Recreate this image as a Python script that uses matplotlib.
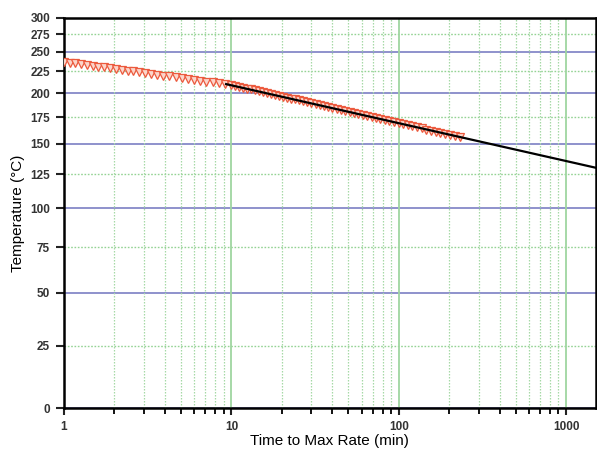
import numpy as np
import matplotlib
matplotlib.use('Agg')
import matplotlib.pyplot as plt
from matplotlib.ticker import LogLocator, NullFormatter, FixedLocator

plt.rcParams['font.family'] = ['Liberation Sans', 'DejaVu Sans']

# 实测数据 (温度 °C, 到达最大速率时间 min)
meas_temp = [237, 236, 235, 234, 233, 232, 231, 230, 229, 228, 227, 226, 225,
             224, 223, 222, 221, 220, 219, 218, 217, 216, 215, 214, 213, 212,
             211, 210, 209, 208, 207, 206, 205, 204, 203, 202, 201, 200, 199,
             198, 197, 196, 195, 194, 193, 192, 191, 190, 189, 188, 187, 186,
             185, 184, 183, 182, 181, 180, 179, 178, 177, 176, 175, 174, 173,
             172, 171, 170, 169, 168, 167, 166, 165, 164, 163, 162, 161, 160,
             159, 158, 157, 156]
meas_time = [1.00, 1.081, 1.169, 1.264, 1.368, 1.481, 1.603, 1.736, 1.881, 2.038,
             2.210, 2.397, 2.600, 2.821, 3.062, 3.325, 3.612, 3.925, 4.266, 4.638,
             5.045, 5.490, 5.974, 6.506, 7.087, 7.721, 8.415, 9.175, 10.01, 10.54,
             11.12, 11.72, 12.37, 13.05, 13.77, 14.54, 15.36, 16.22, 17.13, 18.10,
             19.13, 20.22, 21.39, 22.62, 23.93, 25.32, 26.79, 28.37, 30.04, 31.82,
             33.71, 35.73, 37.87, 40.15, 42.58, 45.17, 47.93, 50.86, 54.01, 57.35,
             60.91, 64.71, 68.78, 73.11, 77.74, 82.68, 87.98, 93.63, 99.68, 106.1,
             113.1, 120.5, 128.4, 136.9, 145.9, 155.7, 166.1, 177.3, 189.3, 202.2,
             216.0, 230.8]

# 拟合直线
fit_time = [9.3, 100, 1500]
fit_temp = [210, 169, 130]

y_ticks = [0, 25, 50, 75, 100, 125, 150, 175, 200, 225, 250, 275, 300]
x_ticks = [1, 10, 100, 1000]


def fwd(t):
    return -1.0 / (np.asarray(t, dtype=float) + 273.15)


def inv(v):
    return -1.0 / np.asarray(v, dtype=float) - 273.15


fig = plt.figure(figsize=(5.97, 4.49), dpi=100)
ax = fig.add_axes([0.1072, 0.0913, 0.8905, 0.8687])
ax.set_xscale('log')
ax.set_yscale('function', functions=(fwd, inv))
ax.set_xlim(1, 1500)
ax.set_ylim(0, 300)

# 网格线
for v in y_ticks:
    if v % 50 == 0:
        ax.axhline(v, color='#7b7fc4', lw=1.2, zorder=1)
    else:
        ax.axhline(v, color='#94d394', lw=1.0, ls=(0, (1.2, 1.2)), zorder=1)
for d in x_ticks:
    ax.axvline(d, color='#9fd6a0', lw=1.3, zorder=1)
    for m in range(2, 10):
        if d * m < 1500:
            ax.axvline(d * m, color='#a6d9a6', lw=0.9, ls=(0, (1.2, 1.2)), zorder=1)

ax.plot(meas_time, meas_temp, 'v', ms=6.3, mfc='#fbd6cb', mec='#ec5a3e',
        mew=0.9, zorder=3)
ax.plot(fit_time, fit_temp, color='black', lw=1.6, zorder=4)

ax.yaxis.set_major_locator(FixedLocator(y_ticks))
ax.set_yticklabels([str(v) for v in y_ticks], fontweight='bold')
ax.xaxis.set_major_locator(FixedLocator(x_ticks))
ax.set_xticklabels([str(v) for v in x_ticks], fontweight='bold')
ax.xaxis.set_minor_locator(LogLocator(base=10, subs=range(2, 10)))
ax.xaxis.set_minor_formatter(NullFormatter())
ax.yaxis.set_minor_locator(FixedLocator([]))

ax.tick_params(axis='both', which='major', direction='out', width=1.5,
               length=5, labelsize=8.5, colors='#222222', labelcolor='#333333', pad=4)
ax.tick_params(axis='x', which='minor', direction='out', width=1.3, length=4)
ax.tick_params(axis='y', which='major', length=6)

for s in ax.spines.values():
    s.set_linewidth(1.8)
    s.set_color('black')

ax.set_xlabel('Time to Max Rate (min)', fontsize=11, labelpad=1)
ax.set_ylabel('Temperature (°C)', fontsize=11, labelpad=4)

fig.savefig('out.png', dpi=100)
